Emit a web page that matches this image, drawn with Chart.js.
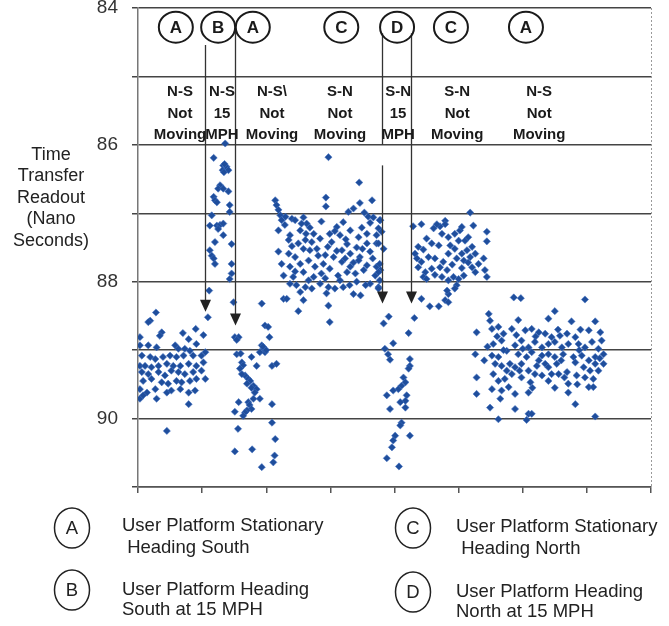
<!DOCTYPE html>
<html><head><meta charset="utf-8">
<script src="https://cdn.jsdelivr.net/npm/chart.js@4"></script>
<style>html,body{margin:0;padding:0;background:#fff}#wrap{width:669px;height:626px;position:relative}</style>
</head><body><div id="wrap"><canvas id="c" width="669" height="626"></canvas></div>
<script>
// ---- Data (x = test timeline position, y = time transfer readout, ns) ----
const segA1 = [[0.28,88.45],[0.19,88.57],[0.16,88.59],[0.37,88.74],[0.34,88.79],[0.03,88.81],[0.90,88.69],[0.70,88.75],[0.79,88.84],[1.02,88.78],
[0.03,88.93],[0.16,88.93],[0.29,88.96],[0.58,88.93],[0.63,88.98],[0.73,88.98],[0.81,89.01],[0.91,88.91],[1.05,89.03],
[0.06,89.08],[0.19,89.10],[0.27,89.13],[0.39,89.10],[0.50,89.08],[0.60,89.10],[0.71,89.08],[0.86,89.08],[0.99,89.08],
[0.03,89.23],[0.11,89.23],[0.21,89.25],[0.32,89.23],[0.45,89.20],[0.55,89.23],[0.66,89.23],[0.79,89.20],[0.91,89.23],[1.02,89.18],
[0.06,89.32],[0.16,89.35],[0.32,89.32],[0.42,89.37],[0.52,89.30],[0.63,89.32],[0.73,89.35],[0.86,89.32],[0.99,89.30],
[0.08,89.45],[0.21,89.42],[0.37,89.47],[0.47,89.49],[0.60,89.45],[0.68,89.47],[0.81,89.45],[0.91,89.42],[1.05,89.42],
[0.03,89.57],[0.14,89.62],[0.27,89.57],[0.45,89.62],[0.52,89.59],[0.66,89.57],[0.79,89.62],[0.89,89.59],
[0.03,89.71],[0.08,89.66],[0.29,89.71],[0.79,89.79],[0.45,90.18]];
const segB = [[1.36,85.98],[1.18,86.19],[1.33,86.30],[1.36,86.35],[1.38,86.32],[1.32,86.37],[1.41,86.37],[1.35,86.28],[1.34,86.40],
[1.28,86.59],[1.25,86.64],[1.33,86.64],[1.41,86.68],[1.18,86.76],[1.20,86.81],[1.23,86.84],
[1.43,86.88],[1.43,86.98],[1.15,87.03],[1.12,87.18],[1.23,87.18],[1.28,87.17],[1.33,87.15],[1.25,87.23],
[1.33,87.32],[1.20,87.42],[1.46,87.45],[1.12,87.54],[1.15,87.62],[1.18,87.66],[1.20,87.74],
[1.46,87.74],[1.46,87.88],[1.43,87.96],[1.11,88.13],[1.09,88.52],[1.49,88.30]];
const segA2 = [[1.93,88.32],[1.98,88.64],[2.03,88.66],[2.05,88.81],[1.51,88.81],[1.57,88.81],[1.54,88.85],
[1.93,88.93],[1.96,88.98],[1.98,89.03],[1.90,89.03],[1.95,88.95],[2.00,89.00],
[1.54,89.06],[1.60,89.05],[1.77,89.10],[1.85,89.23],[2.09,89.23],[2.16,89.20],
[1.62,89.18],[1.64,89.22],[1.59,89.27],[1.67,89.37],[1.72,89.42],[1.75,89.45],[1.80,89.52],[1.77,89.55],[1.62,89.35],[1.70,89.49],[1.85,89.57],[1.82,89.62],[1.90,89.71],[1.80,89.71],
[1.57,89.76],[1.72,89.76],[1.74,89.80],[1.77,89.86],[1.70,89.88],[1.67,89.91],[1.64,89.96],[1.51,89.90],
[2.09,89.79],[2.09,90.06],[2.14,90.30],[2.13,90.54],[2.11,90.64],[1.56,90.15],[1.51,90.48],[1.78,90.45],[1.93,90.71]];
const segC1 = [[2.97,86.18],[3.45,86.55],
[2.14,86.81],[2.16,86.88],[2.19,86.95],[2.22,87.03],[2.24,87.10],[2.93,86.77],[2.93,86.90],[3.46,86.85],[3.65,86.81],[3.36,86.93],[3.28,86.98],[3.53,86.99],[3.59,87.05],[3.67,87.06],[3.78,87.10],
[2.40,87.08],[2.45,87.10],[2.58,87.06],[2.63,87.15],[2.68,87.21],[2.86,87.12],[3.10,87.20],[3.20,87.13],[3.31,87.25],[3.49,87.21],[3.62,87.14],[3.75,87.22],[2.30,87.05],[2.55,87.15],
[2.19,87.25],[2.29,87.17],[2.37,87.32],[2.53,87.25],[2.74,87.30],[3.07,87.26],[3.15,87.32],[3.44,87.35],[3.57,87.30],[3.72,87.32],[2.62,87.30],[2.99,87.30],
[2.35,87.39],[2.50,87.44],[2.61,87.39],[2.84,87.37],[3.02,87.42],[3.26,87.45],[3.41,87.50],[3.57,87.44],[3.72,87.44],[2.71,87.42],[3.24,87.38],[2.40,87.48],
[2.19,87.56],[2.35,87.59],[2.45,87.64],[2.58,87.52],[2.68,87.54],[2.79,87.52],[2.92,87.61],[3.05,87.64],[3.18,87.54],[3.31,87.59],[3.46,87.64],[3.62,87.56],[3.83,87.52],[2.96,87.49],[3.10,87.55],[3.50,87.52],
[2.24,87.74],[2.37,87.78],[2.53,87.74],[2.66,87.69],[2.76,87.78],[2.89,87.74],[2.99,87.81],[3.18,87.71],[3.31,87.78],[3.44,87.69],[3.57,87.76],[3.72,87.78],[2.81,87.62],[3.23,87.66],[3.36,87.72],[3.66,87.66],
[2.27,87.91],[2.42,87.93],[2.58,87.86],[2.74,87.93],[2.86,87.88],[3.12,87.91],[3.26,87.86],[3.39,87.88],[3.52,87.83],[3.70,87.91],[3.78,87.83],[2.45,87.85],
[2.37,88.03],[2.47,88.05],[2.61,88.08],[2.84,88.03],[2.97,88.08],[3.07,88.10],[3.20,88.08],[3.41,88.00],[3.62,88.03],[3.75,88.08],[2.66,87.98],[2.92,87.95],[3.15,87.98],[3.30,88.05],[3.55,88.05],
[2.53,88.15],[2.71,88.10],[2.94,88.17],[2.27,88.25],[2.32,88.25],[2.58,88.27],[3.36,88.18],[3.47,88.20],
[2.50,88.43],[2.97,88.35],[2.99,88.59],
[3.77,87.10],[3.80,87.27],[3.75,87.44],[3.77,87.74],[3.75,87.86],[3.77,87.98],[3.75,88.10]];
const segD = [[3.91,88.51],[3.83,88.61],[4.31,88.53],[4.22,88.75],[3.98,88.90],[3.85,88.98],[3.90,89.06],[3.93,89.14],
[4.24,89.13],[4.24,89.23],[4.22,89.27],[4.14,89.40],[4.17,89.47],[4.11,89.52],[4.06,89.57],[3.98,89.59],[3.88,89.66],[4.19,89.66],[4.17,89.74],[4.09,89.76],[3.93,89.86],[4.17,89.84],
[4.11,90.06],[4.09,90.10],[4.01,90.25],[3.98,90.32],[3.96,90.42],[4.24,90.25],[3.88,90.58],[4.07,90.70]];
const segC2 = [[5.18,86.99],[4.42,87.16],[4.29,87.19],[4.79,87.11],[4.71,87.19],[4.66,87.16],[4.61,87.22],[4.79,87.16],
[5.23,87.18],[5.44,87.27],[5.44,87.41],
[4.50,87.37],[4.37,87.49],[4.32,87.59],[4.45,87.53],[4.58,87.44],[4.69,87.47],[4.74,87.30],[4.84,87.35],[4.94,87.30],[5.02,87.25],[5.05,87.20],[5.00,87.40],[5.10,87.40],[5.15,87.35],[5.21,87.49],[5.13,87.54],[5.05,87.59],[4.94,87.52],[4.87,87.47],
[4.35,87.66],[4.42,87.71],[4.53,87.64],[4.63,87.66],[4.76,87.71],[4.84,87.59],[4.97,87.66],[5.08,87.69],[5.18,87.64],[5.26,87.59],[5.39,87.66],[5.31,87.74],
[4.37,87.79],[4.48,87.86],[4.58,87.81],[4.71,87.79],[4.82,87.83],[4.92,87.93],[5.00,87.96],[5.08,87.91],[5.21,87.79],[5.26,87.86],[5.41,87.83],[5.44,87.93],
[4.45,87.93],[4.74,87.93],[4.84,87.98],[4.97,88.05],[4.94,88.10],[4.50,87.96],[4.63,87.90],[5.05,87.80],[5.15,87.72],[4.90,87.75],
[4.42,88.25],[4.55,88.36],[4.69,88.36],[4.79,88.27],[4.84,88.18],[4.82,88.13],[4.84,88.30]];
const segA3 = [[5.86,88.23],[5.97,88.24],[6.97,88.26],
[5.47,88.47],[5.49,88.57],[5.93,88.56],[6.50,88.43],[6.40,88.54],[6.76,88.58],[7.13,88.58],
[5.28,88.74],[5.52,88.69],[5.62,88.66],[5.70,88.76],[5.83,88.69],[6.04,88.71],[6.14,88.69],[6.25,88.74],[6.35,88.76],[6.45,88.81],[6.58,88.79],[6.69,88.76],[6.82,88.81],[7.03,88.71],[7.21,88.74],[7.23,88.86],
[5.60,88.80],[5.90,88.78],[6.20,88.80],[6.55,88.70],[6.90,88.70],
[5.54,88.91],[5.67,88.86],[5.88,88.93],[5.98,88.86],[6.09,88.96],[6.19,88.88],[6.30,88.96],[6.40,88.91],[6.50,88.88],[6.61,88.96],[6.71,88.91],[6.87,88.91],[6.97,88.96],[7.08,88.88],[7.18,88.98],[5.45,88.95],
[5.26,89.06],[5.52,89.08],[5.62,89.10],[5.75,89.01],[5.93,89.06],[6.06,89.10],[6.14,89.03],[6.30,89.08],[6.40,89.06],[6.50,89.10],[6.63,89.06],[6.79,89.10],[6.92,89.08],[7.03,89.15],[7.13,89.10],[7.26,89.06],
[5.70,89.00],[6.00,88.98],[6.25,89.15],[6.60,89.15],[6.88,89.00],[7.20,89.12],[5.40,89.15],
[5.57,89.20],[5.67,89.23],[5.80,89.20],[5.88,89.25],[5.98,89.20],[6.09,89.30],[6.22,89.23],[6.35,89.20],[6.45,89.35],[6.53,89.20],[6.69,89.32],[6.82,89.18],[6.95,89.25],[7.13,89.20],[7.26,89.20],
[5.95,89.30],[6.65,89.40],[6.40,89.25],[7.05,89.30],[5.75,89.30],
[5.28,89.40],[5.54,89.35],[5.62,89.45],[5.72,89.42],[5.83,89.35],[5.98,89.40],[6.12,89.47],[6.19,89.35],[6.30,89.37],[6.40,89.45],[6.56,89.35],[6.71,89.49],[6.84,89.37],[6.97,89.40],[7.10,89.42],[7.18,89.30],
[5.52,89.57],[5.67,89.59],[5.78,89.54],[5.88,89.64],[6.09,89.62],[6.71,89.62],[7.03,89.54],[7.10,89.54],[6.15,89.55],[6.50,89.55],[6.85,89.50],
[5.28,89.64],[5.65,89.71],[5.88,89.86],[5.49,89.84],[6.82,89.79],[6.09,89.93],[6.14,89.93],[5.62,90.01],[6.06,90.02],[7.13,89.97]];
const segments = [segA1, segB, segA2, segC1, segD, segC2, segA3];

const yTickLabels = [84, 86, 88, 90];
const yTitleLines = ['Time', 'Transfer', 'Readout', '(Nano', 'Seconds)'];

// ---- Phase annotations (data-unit positions) ----
const phaseLetters = ['A','B','A','C','D','C','A'];
const phaseLetterX = [0.59, 1.25, 1.79, 3.17, 4.04, 4.88, 6.05];
const phaseLabels = [['N-S','Not','Moving'],['N-S','15','MPH'],['N-S\\','Not','Moving'],['S-N','Not','Moving'],['S-N','15','MPH'],['S-N','Not','Moving'],['N-S','Not','Moving']];
const phaseLabelX = [0.655, 1.31, 2.09, 3.15, 4.056, 4.977, 6.256];
const markerLines = [
  {x: 1.045, segs: [[84.54, 88.44]]},
  {x: 1.513, segs: [[84.33, 88.64]]},
  {x: 3.807, segs: [[84.37, 86.0], [86.30, 88.32]]},
  {x: 4.259, segs: [[84.37, 88.32]]}
];

const legendItems = [
  {letter:'A', lines:['User Platform Stationary', ' Heading South'], cx:72, cy:528, tx:122, ty:[526,548]},
  {letter:'B', lines:['User Platform Heading', 'South at 15 MPH'], cx:72, cy:590, tx:122, ty:[590,610]},
  {letter:'C', lines:['User Platform Stationary', ' Heading North'], cx:413, cy:528, tx:456, ty:[527,549]},
  {letter:'D', lines:['User Platform Heading', 'North at 15 MPH'], cx:413, cy:592, tx:456, ty:[592,612]}
];

const FONT = '"Liberation Sans", Arial, Helvetica, sans-serif';
const PT = '#1f4e9c';

const overlay = {
  id: 'overlay',
  afterDraw(chart) {
    const {ctx, chartArea: a, scales: {x, y}} = chart;
    ctx.save();
    // right border (dotted, light)
    ctx.strokeStyle = '#9a9a9a'; ctx.lineWidth = 1; ctx.setLineDash([2, 2]);
    ctx.beginPath(); ctx.moveTo(a.right + 0.5, a.top); ctx.lineTo(a.right + 0.5, a.bottom); ctx.stroke();
    ctx.setLineDash([]);

    // marker lines with arrows
    ctx.strokeStyle = '#333'; ctx.fillStyle = '#222'; ctx.lineWidth = 1.3;
    markerLines.forEach(m => {
      const px = Math.round(x.getPixelForValue(m.x)) + 0.5;
      m.segs.forEach((s, i) => {
        const y0 = y.getPixelForValue(s[0]), y1 = y.getPixelForValue(s[1]);
        const last = i === m.segs.length - 1;
        ctx.beginPath(); ctx.moveTo(px, y0); ctx.lineTo(px, last ? y1 - 10 : y1); ctx.stroke();
        if (last) {
          ctx.beginPath(); ctx.moveTo(px - 5.5, y1 - 12); ctx.lineTo(px + 5.5, y1 - 12); ctx.lineTo(px, y1); ctx.closePath(); ctx.fill();
        }
      });
    });

    // phase circles
    ctx.lineWidth = 2; ctx.strokeStyle = '#1a1a1a'; ctx.fillStyle = '#1a1a1a';
    ctx.textAlign = 'center'; ctx.textBaseline = 'middle';
    ctx.font = 'bold 17px ' + FONT;
    phaseLetters.forEach((L, i) => {
      const cx = x.getPixelForValue(phaseLetterX[i]), cy = y.getPixelForValue(84.28);
      ctx.beginPath(); ctx.ellipse(cx, cy, 17, 15.5, 0, 0, Math.PI * 2); ctx.stroke();
      ctx.fillText(L, cx, cy + 1);
    });
    // phase labels
    ctx.font = 'bold 15px ' + FONT;
    const rows = [85.23, 85.54, 85.86];
    phaseLabels.forEach((lines, i) => {
      const cx = x.getPixelForValue(phaseLabelX[i]);
      lines.forEach((t, j) => ctx.fillText(t, cx, y.getPixelForValue(rows[j])));
    });

    // y title
    ctx.font = '18px ' + FONT; ctx.fillStyle = '#222';
    yTitleLines.forEach((t, i) => ctx.fillText(t, 51, 155 + i * 21.5));

    // legend
    legendItems.forEach(it => {
      ctx.lineWidth = 1.5; ctx.strokeStyle = '#222';
      ctx.beginPath(); ctx.ellipse(it.cx, it.cy, 17.5, 20, 0, 0, Math.PI * 2); ctx.stroke();
      ctx.textAlign = 'center'; ctx.font = '18.5px ' + FONT; ctx.fillStyle = '#222';
      ctx.fillText(it.letter, it.cx, it.cy + 1);
      ctx.textAlign = 'left';
      it.lines.forEach((t, j) => ctx.fillText(t, it.tx, it.ty[j]));
    });
    ctx.restore();
  }
};

new Chart(document.getElementById('c'), {
  type: 'scatter',
  data: {
    datasets: segments.map(s => ({
      data: s.map(p => ({x: p[0], y: p[1]})),
      pointStyle: 'rectRot', radius: 3.6, borderWidth: 1,
      backgroundColor: PT, borderColor: 'rgba(70,115,195,0.55)'
    }))
  },
  options: {
    responsive: false, animation: false, devicePixelRatio: 1,
    layout: {padding: {top: 8, right: 18, left: 0, bottom: 0}},
    plugins: {legend: {display: false}, tooltip: {enabled: false}},
    scales: {
      x: {
        type: 'linear', min: 0, max: 8,
        ticks: {stepSize: 1, display: false},
        grid: {drawOnChartArea: false, drawTicks: true, tickLength: 6, color: '#555', lineWidth: 1.5},
        border: {display: true, color: '#555', width: 1.5},
        afterFit: s => { s.height = 139; s.paddingLeft = 0; s.paddingRight = 0; }
      },
      y: {
        type: 'linear', min: 84, max: 91, reverse: true,
        ticks: {stepSize: 1, padding: 14, color: '#333', font: {family: FONT, size: 19},
          callback: v => yTickLabels.includes(v) ? String(v) : ''},
        grid: {color: '#444', lineWidth: 1.5, tickLength: 6},
        border: {color: '#777', width: 1.5},
        afterFit: s => { s.width = 138; s.paddingTop = 0; s.paddingBottom = 0; }
      }
    }
  },
  plugins: [overlay]
});
</script></body></html>
